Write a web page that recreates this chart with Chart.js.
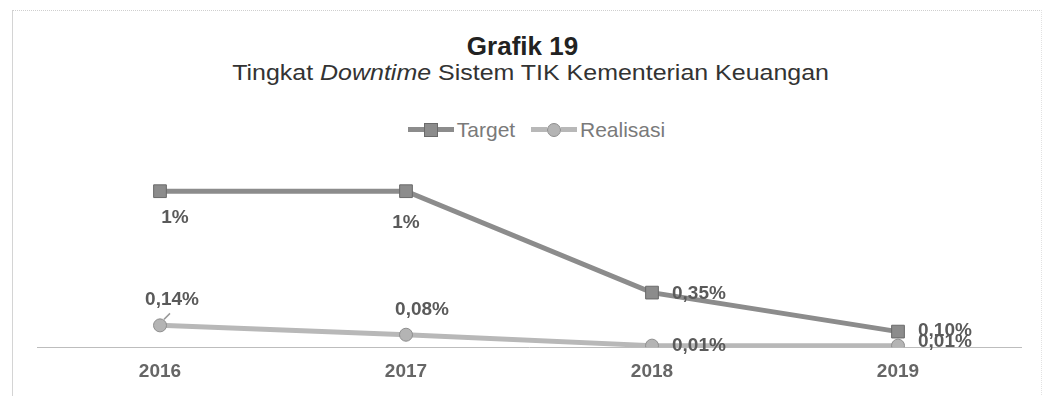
<!DOCTYPE html>
<html lang="id">
<head>
  <meta charset="utf-8">
  <title>Grafik 19</title>
  <style>
    body { margin: 0; background: #fff; font-family: 'Liberation Sans', Arial, sans-serif; }
    #wrap { position: relative; width: 1045px; height: 396px; overflow: hidden; }
    #frame { position: absolute; left: 12px; top: 10px; width: 1028px; height: 400px;
             border-left: 1px solid #d4d4d4; border-top: 1px dotted #cfcfcf; border-right: 1px dotted #e2e2e2; }
    #title { position: absolute; top: 31px; left: 0; width: 1045px; text-align: center; line-height: 30px;
             font-size: 26px; font-weight: bold; color: #222; }
    #subtitle { position: absolute; top: 60px; left: 8px; width: 1045px; text-align: center; line-height: 26px;
                font-size: 22px; color: #333; transform: scaleX(1.135); transform-origin: 522px 0; }
    #legend { position: absolute; top: 112px; left: 14px; width: 1045px; text-align: center; line-height: 26px;
              font-size: 21px; color: #7a7a7a; }
    .item { display: inline-flex; align-items: center; margin: 0 5px; }
    .seg { display: inline-block; width: 16px; height: 5px; }
    .sq { display: inline-block; width: 12px; height: 12px; background: #8c8c8c; border: 1px solid #6a6a6a; }
    .ci { display: inline-block; width: 12px; height: 12px; border-radius: 50%; background: #b4b4b4; border: 1px solid #8e8e8e; }
    .txt { margin-left: 3px; }
    canvas { position: absolute; left: 0; top: 0; }
  </style>
</head>
<body>
  <div id="wrap">
    <div id="frame"></div>
    <div id="title">Grafik 19</div>
    <div id="subtitle">Tingkat <i>Downtime</i> Sistem TIK Kementerian Keuangan</div>
    <div id="legend">
      <span class="item"><span class="seg" style="background:#8c8c8c"></span><span class="sq"></span><span class="seg" style="background:#8c8c8c"></span><span class="txt">Target</span></span>
      <span class="item"><span class="seg" style="background:#b8b8b8"></span><span class="ci"></span><span class="seg" style="background:#b8b8b8"></span><span class="txt">Realisasi</span></span>
    </div>
    <canvas id="myChart" width="1045" height="396"></canvas>
  </div>

  <script src="https://cdn.jsdelivr.net/npm/chart.js@4.4.0/dist/chart.umd.min.js"></script>
  <script>
    // data dari grafik
    var tahun = ['2016', '2017', '2018', '2019'];
    var target = [1, 1, 0.35, 0.10];
    var realisasi = [0.14, 0.08, 0.01, 0.01];

    function formatPersen(v) {
      if (v >= 1) return v + '%';
      return v.toFixed(2).replace('.', ',') + '%';
    }

    // posisi label relatif terhadap titik: [dx, dy, align]
    var posLabel = [
      [[15, 27, 'center'], [0, 32, 'center'], [20, 1, 'left'], [20, -1, 'left']],
      [[12, -26, 'center'], [16, -25, 'center'], [20, 0, 'left'], [20, -4, 'left']]
    ];

    var labelPlugin = {
      id: 'labelNilai',
      afterDatasetsDraw: function (chart) {
        var ctx = chart.ctx;
        ctx.save();
        ctx.font = 'bold 19px "Liberation Sans", Arial, sans-serif';
        ctx.fillStyle = '#5a5a5a';
        ctx.textBaseline = 'middle';
        chart.data.datasets.forEach(function (ds, di) {
          var meta = chart.getDatasetMeta(di);
          meta.data.forEach(function (pt, i) {
            var p = posLabel[di][i];
            ctx.textAlign = p[2];
            ctx.fillText(formatPersen(ds.data[i]), pt.x + p[0], pt.y + p[1]);
          });
        });
        // garis penunjuk kecil untuk 0,14%
        var p0 = chart.getDatasetMeta(1).data[0];
        ctx.strokeStyle = '#999';
        ctx.lineWidth = 1.5;
        ctx.beginPath();
        ctx.moveTo(p0.x + 4, p0.y - 6);
        ctx.lineTo(p0.x + 10, p0.y - 12);
        ctx.stroke();
        ctx.restore();
      }
    };

    var ctx = document.getElementById('myChart').getContext('2d');
    var myChart = new Chart(ctx, {
      type: 'line',
      data: {
        labels: tahun,
        datasets: [{
          label: 'Target',
          data: target,
          borderColor: '#8c8c8c',
          borderWidth: 5,
          backgroundColor: '#8c8c8c',
          pointStyle: 'rect',
          pointRadius: 9,
          pointBorderColor: '#6a6a6a',
          pointBorderWidth: 1,
          tension: 0
        }, {
          label: 'Realisasi',
          data: realisasi,
          borderColor: '#b8b8b8',
          borderWidth: 5,
          backgroundColor: '#b4b4b4',
          pointStyle: 'circle',
          pointRadius: 6.5,
          pointBorderColor: '#8e8e8e',
          pointBorderWidth: 1,
          tension: 0
        }]
      },
      options: {
        responsive: false,
        animation: false,
        layout: { padding: { top: 160, left: 37, right: 24, bottom: 0 } },
        plugins: {
          legend: { display: false },
          tooltip: { enabled: false }
        },
        scales: {
          x: {
            offset: true,
            grid: { display: false, drawTicks: false },
            border: { display: true, color: '#bdbdbd', width: 1, dash: [2, 2] },
            ticks: {
              padding: 13,
              color: '#666',
              font: { family: '"Liberation Sans", Arial, sans-serif', size: 19, weight: 'bold' }
            }
          },
          y: {
            display: false,
            min: 0,
            max: 1.2
          }
        }
      },
      plugins: [labelPlugin]
    });
  </script>
</body>
</html>
